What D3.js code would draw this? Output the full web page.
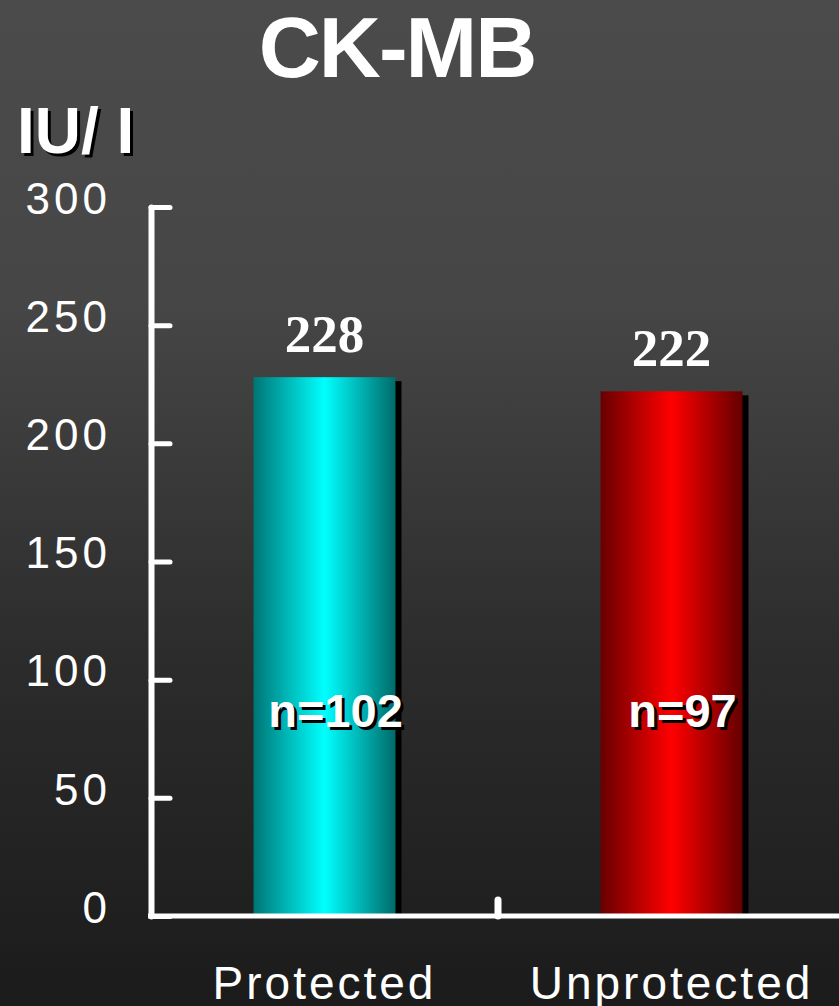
<!DOCTYPE html>
<html>
<head>
<meta charset="utf-8">
<script src="https://cdn.jsdelivr.net/npm/d3@7"></script>
<style>
  html, body { margin: 0; padding: 0; background: #1c1c1c; }
  svg { display: block; }
</style>
</head>
<body>
<script>
// CK-MB release, protected vs unprotected groups
const categories = ["Protected", "Unprotected"];
const values = [228, 222];
const sampleSizes = ["n=102", "n=97"];
const yTicks = [0, 50, 100, 150, 200, 250, 300];

const W = 839, H = 1006;
const svg = d3.select("body").append("svg")
  .attr("width", W).attr("height", H);

const defs = svg.append("defs");

// background: lighter grey at the top fading darker toward the bottom
const bg = defs.append("linearGradient").attr("id", "bg")
  .attr("x1", 0).attr("y1", 0).attr("x2", 0).attr("y2", 1);
[[0, "#4b4b4b"], [0.3, "#464646"], [0.65, "#2c2c2c"], [1, "#1b1b1b"]]
  .forEach(([o, c]) => bg.append("stop").attr("offset", o).attr("stop-color", c));
svg.append("rect").attr("width", W).attr("height", H).attr("fill", "url(#bg)");

// cylinder-like horizontal shading for the bars
function barGradient(id, edgeL, mid, edgeR) {
  const g = defs.append("linearGradient").attr("id", id)
    .attr("x1", 0).attr("y1", 0).attr("x2", 1).attr("y2", 0);
  [[0, edgeL], [0.5, mid], [1, edgeR]]
    .forEach(([o, c]) => g.append("stop").attr("offset", o).attr("stop-color", c));
}
barGradient("g0", "#007575", "#00ffff", "#006a6a");
barGradient("g1", "#680000", "#ff0000", "#640000");

const x = d3.scaleBand().domain(categories).range([151, 845])
  .paddingInner(0.591).paddingOuter(0.2955);
const y = d3.scaleLinear().domain([0, 300]).range([916, 207]);

const bars = categories.map((c, i) => ({ c, v: values[i], n: sampleSizes[i], i }));

// drop shadows behind the bars
svg.append("g").selectAll("rect").data(bars).join("rect")
  .attr("x", d => x(d.c) + 6)
  .attr("y", d => y(d.v) + 4)
  .attr("width", x.bandwidth())
  .attr("height", d => y(0) - y(d.v) - 4)
  .attr("fill", "#000");

// bars
svg.append("g").selectAll("rect").data(bars).join("rect")
  .attr("x", d => x(d.c))
  .attr("y", d => y(d.v))
  .attr("width", x.bandwidth())
  .attr("height", d => y(0) - y(d.v))
  .attr("fill", d => `url(#g${d.i})`);

// value labels above the bars
svg.append("g").selectAll("text").data(bars).join("text")
  .attr("x", d => x(d.c) + x.bandwidth() / 2)
  .attr("y", d => y(d.v) - 25)
  .attr("text-anchor", "middle")
  .attr("font-family", "'Liberation Serif', 'Times New Roman', serif")
  .attr("font-weight", "bold")
  .attr("font-size", 53)
  .attr("fill", "#fff")
  .text(d => d.v);

// sample size labels inside the bars, with a hard black shadow
const nLabels = svg.append("g")
  .attr("font-family", "'Liberation Sans', Arial, sans-serif")
  .attr("font-weight", "bold")
  .attr("font-size", 47)
  .attr("text-anchor", "middle");
[["#000", 3], ["#fff", 0]].forEach(([fill, off]) => {
  nLabels.append("g").selectAll("text").data(bars).join("text")
    .attr("x", d => x(d.c) + x.bandwidth() / 2 + 11 + off)
    .attr("y", y(80) + off)
    .attr("fill", fill)
    .text(d => d.n);
});

// y axis: inward ticks, labels set well off to the left
const yAxis = svg.append("g")
  .attr("transform", "translate(151,0)")
  .call(d3.axisLeft(y).tickValues(yTicks)
    .tickSizeInner(-19).tickSizeOuter(0).tickPadding(44));
yAxis.select(".domain")
  .attr("stroke", "#fff").attr("stroke-width", 6).attr("stroke-linecap", "round");
yAxis.selectAll(".tick line")
  .attr("stroke", "#fff").attr("stroke-width", 5).attr("stroke-linecap", "round");
yAxis.selectAll(".tick text")
  .attr("fill", "#fff")
  .attr("font-family", "'Liberation Sans', Arial, sans-serif")
  .attr("font-size", 44)
  .attr("letter-spacing", 4)
  .attr("dx", 4)
  .attr("dy", "0.14em");

// x axis baseline with a single divider tick between the groups
const divider = (x(categories[0]) + x.bandwidth() + x(categories[1])) / 2;
svg.append("line")
  .attr("x1", 148).attr("x2", W + 5)
  .attr("y1", y(0)).attr("y2", y(0))
  .attr("stroke", "#fff").attr("stroke-width", 5);
svg.append("line")
  .attr("x1", divider).attr("x2", divider)
  .attr("y1", y(0)).attr("y2", y(0) - 16)
  .attr("stroke", "#fff").attr("stroke-width", 7).attr("stroke-linecap", "round");

// category labels
const xAxis = svg.append("g")
  .attr("transform", `translate(0,${y(0)})`)
  .call(d3.axisBottom(x).tickSize(0).tickPadding(50));
xAxis.select(".domain").remove();
xAxis.selectAll(".tick text")
  .attr("fill", "#fff")
  .attr("font-family", "'Liberation Sans', Arial, sans-serif")
  .attr("font-size", 46)
  .attr("letter-spacing", 3);

// title
svg.append("text")
  .attr("x", 397).attr("y", 77)
  .attr("text-anchor", "middle")
  .attr("font-family", "'Liberation Sans', Arial, sans-serif")
  .attr("font-weight", "bold")
  .attr("font-size", 86)
  .attr("letter-spacing", -2)
  .attr("fill", "#fff")
  .text("CK-MB");

// unit label with black shadow
[["#000", 3], ["#fff", 0]].forEach(([fill, off]) => {
  svg.append("text")
    .attr("x", 17 + off).attr("y", 153 + off)
    .attr("font-family", "'Liberation Sans', Arial, sans-serif")
    .attr("font-weight", "bold")
    .attr("font-size", 64)
    .attr("fill", fill)
    .text("IU/ I");
});
</script>
</body>
</html>
